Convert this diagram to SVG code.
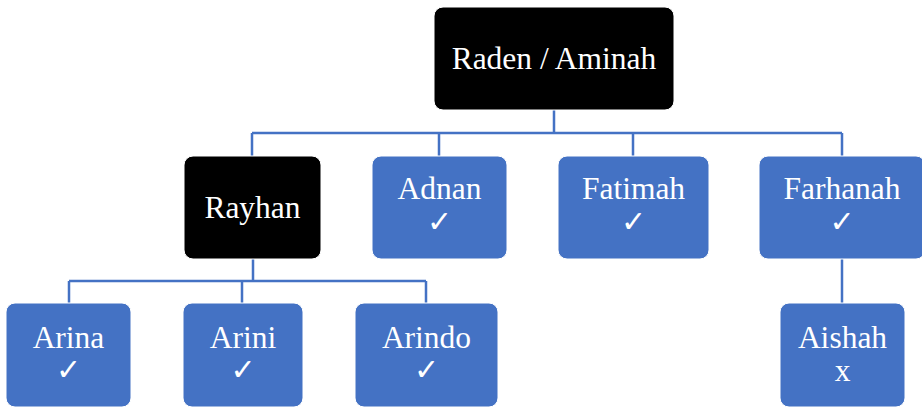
<svg xmlns="http://www.w3.org/2000/svg" width="922" height="408" viewBox="0 0 922 408">
<style>
.blk{fill:#000000;stroke:#ffffff;stroke-width:1}
.blu{fill:#4472C4;stroke:#ffffff;stroke-width:1}
.t{font-family:"Liberation Serif","Times New Roman",serif;font-size:31.5px;fill:#ffffff;text-anchor:middle}
.ck{font-family:"DejaVu Sans",sans-serif;font-size:30px;font-weight:bold;fill:#ffffff;text-anchor:middle}
.ln{fill:none;stroke:#4472C4;stroke-width:2.5}
</style>
<rect width="922" height="408" fill="#ffffff"/>
<g id="connectors">
<path class="ln" d="M554 110V133M252 133H842M252 133V156M439 133V156M633 133V156M842 133V156"/>
<path class="ln" d="M253 259V281M69 281H426M69 281V303M242 281V303M426 281V303"/>
<path class="ln" d="M842 259V303"/>
</g>
<g id="root"><rect class="blk" x="434" y="7" width="240" height="103" rx="9"/><text class="t" x="554" y="69">Raden / Aminah</text></g>
<g id="rayhan"><rect class="blk" x="184" y="156" width="137" height="103" rx="9"/><text class="t" x="252.5" y="218">Rayhan</text></g>
<g id="adnan"><rect class="blu" x="372" y="156" width="135" height="103" rx="9"/><text class="t" x="439.5" y="199">Adnan</text><text class="ck" x="439.5" y="232">✓</text></g>
<g id="fatimah"><rect class="blu" x="558" y="156" width="151" height="103" rx="9"/><text class="t" x="633.5" y="199">Fatimah</text><text class="ck" x="633.5" y="232">✓</text></g>
<g id="farhanah"><rect class="blu" x="759" y="156" width="166" height="103" rx="9"/><text class="t" x="842" y="199">Farhanah</text><text class="ck" x="842" y="232">✓</text></g>
<g id="arina"><rect class="blu" x="6" y="303" width="125" height="104" rx="9"/><text class="t" x="68.5" y="348">Arina</text><text class="ck" x="68.5" y="380">✓</text></g>
<g id="arini"><rect class="blu" x="183" y="303" width="120" height="104" rx="9"/><text class="t" x="243" y="348">Arini</text><text class="ck" x="243" y="380">✓</text></g>
<g id="arindo"><rect class="blu" x="355" y="303" width="143" height="104" rx="9"/><text class="t" x="426.5" y="348">Arindo</text><text class="ck" x="426.5" y="380">✓</text></g>
<g id="aishah"><rect class="blu" x="780" y="303" width="125" height="104" rx="9"/><text class="t" x="842.5" y="348">Aishah</text><text class="t" x="842.5" y="381">x</text></g>
</svg>
